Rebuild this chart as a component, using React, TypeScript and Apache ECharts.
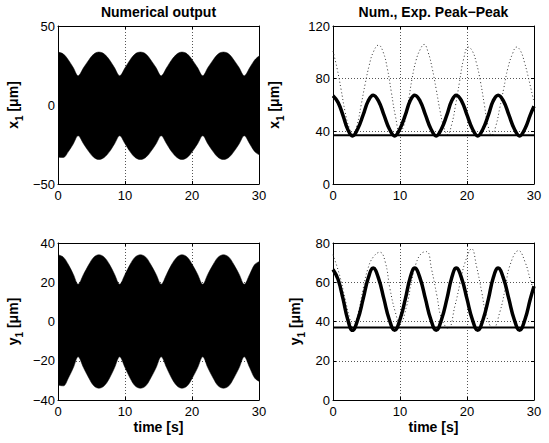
import React, { useEffect, useRef } from "react";
import * as echarts from "echarts";

// ---------- data ----------
const titles = ["Numerical output", "Num., Exp. Peak\u2212Peak"];
const timeRange = [0, 30];

// envelope sample times (left column)
const tEnv = [0, 0.8, 1.55, 2.3, 3.0, 3.8, 4.6, 5.35, 6.1, 6.9, 7.7, 8.45, 9.2, 10.0, 10.75, 11.5, 12.3, 13.1, 13.85, 14.65, 15.4, 16.2, 16.95, 17.75, 18.5, 19.3, 20.05, 20.85, 21.6, 22.35, 23.15, 23.9, 24.7, 25.5, 26.25, 27.05, 27.8, 28.6, 29.35, 30.0];
const x1Upper = [33.5, 32.3, 28.5, 23.5, 18.5, 23.5, 28.5, 32.3, 33.5, 32.3, 28.5, 23.5, 18.5, 23.5, 28.5, 32.3, 33.5, 32.3, 28.5, 23.5, 18.5, 23.5, 28.5, 32.3, 33.5, 32.3, 28.5, 23.5, 18.5, 23.5, 28.5, 32.3, 33.5, 32.3, 28.5, 23.5, 18.5, 23.5, 28.5, 31.0];
const x1Lower = [-33.0, -33.2, -29.5, -24.5, -19.5, -24.5, -29.5, -33.2, -34.5, -33.2, -29.5, -24.5, -19.5, -24.5, -29.5, -33.2, -34.5, -33.2, -29.5, -24.5, -19.5, -24.5, -29.5, -33.2, -34.5, -33.2, -29.5, -24.5, -19.5, -24.5, -29.5, -33.2, -34.5, -33.2, -29.5, -24.5, -19.5, -24.5, -29.5, -31.5];
const y1Upper = [34.0, 32.8, 29.0, 24.0, 19.0, 24.0, 29.0, 32.8, 34.0, 32.8, 29.0, 24.0, 19.0, 24.0, 29.0, 32.8, 34.0, 32.8, 29.0, 24.0, 19.0, 24.0, 29.0, 32.8, 34.0, 32.8, 29.0, 24.0, 19.0, 24.0, 29.0, 32.8, 34.0, 32.8, 29.0, 24.0, 19.0, 24.0, 29.0, 30.5];
const y1Lower = [-32.5, -32.8, -28.8, -23.5, -18.0, -23.5, -28.8, -32.8, -34.0, -32.8, -28.8, -23.5, -18.0, -23.5, -28.8, -32.8, -34.0, -32.8, -28.8, -23.5, -18.0, -23.5, -28.8, -32.8, -34.0, -32.8, -28.8, -23.5, -18.0, -23.5, -28.8, -32.8, -34.0, -32.8, -28.8, -23.5, -18.0, -23.5, -28.8, -30.5];

// numerical peak-peak (thick line, right column)
const tPP = [0, 0.75, 1.5, 2.2, 2.9, 3.7, 4.5, 5.25, 6.0, 6.8, 7.6, 8.4, 9.2, 10.0, 10.8, 11.5, 12.2, 13.0, 13.8, 14.6, 15.4, 16.2, 17.0, 17.7, 18.4, 19.2, 20.0, 20.8, 21.6, 22.4, 23.2, 23.9, 24.65, 25.45, 26.25, 27.05, 27.85, 28.65, 29.45, 30.0];
const x1PP = [67.0, 62.0, 52.0, 41.5, 36.5, 42.0, 52.5, 63.0, 67.5, 63.0, 52.5, 42.0, 36.5, 42.0, 52.5, 63.0, 67.5, 63.0, 52.5, 42.0, 36.5, 42.0, 52.5, 63.0, 67.5, 63.0, 52.5, 42.0, 36.5, 42.0, 52.5, 63.0, 67.5, 63.0, 52.5, 42.0, 36.5, 42.0, 52.5, 59.0];
const y1PP = [66.5, 61.5, 51.5, 41.0, 35.5, 41.0, 51.5, 62.0, 67.2, 62.0, 51.5, 41.0, 35.5, 41.0, 51.5, 62.0, 67.2, 62.0, 51.5, 41.0, 35.5, 41.0, 51.5, 62.0, 67.2, 62.0, 51.5, 41.0, 35.5, 41.0, 51.5, 62.0, 67.2, 62.0, 51.5, 41.0, 35.5, 41.0, 51.5, 58.0];

// experimental peak-peak (dotted line)
const tExpX = [0, 0.6, 1.2, 1.8, 2.4, 3.0, 3.6, 4.2, 4.8, 5.4, 6.0, 6.8, 7.5, 8.1, 8.7, 9.3, 10.0, 10.6, 11.2, 11.8, 12.4, 13.0, 13.6, 14.2, 14.8, 15.4, 16.0, 16.6, 17.1, 17.7, 18.3, 18.9, 19.5, 20.2, 20.8, 21.4, 22.0, 22.6, 23.1, 23.7, 24.3, 24.9, 25.5, 26.1, 26.8, 27.4, 28.0, 28.6, 29.2, 30.0];
const x1Exp = [101, 88, 72, 55, 43, 38, 45, 60, 76, 90, 100, 105.5, 100, 88, 70, 52, 39, 45, 61, 80, 94, 102, 106, 100, 88, 72, 55, 42, 37.5, 45, 60, 78, 95, 104, 101, 92, 78, 60, 45, 37, 44, 58, 73, 88, 99, 104, 101, 92, 80, 62];
const tExpY = [0, 1.0, 1.8, 2.5, 3.0, 3.8, 4.5, 5.2, 6.0, 7.0, 7.8, 8.5, 9.3, 10.0, 11.0, 11.7, 12.4, 13.2, 14.0, 14.7, 15.5, 16.2, 17.2, 18.2, 19.0, 19.7, 20.7, 21.4, 22.2, 22.9, 23.9, 24.9, 25.7, 26.4, 27.7, 28.7, 29.4, 30.0];
const y1Exp = [74, 63.4, 51.6, 41.5, 36.4, 44.8, 56.7, 66.8, 72.8, 75.3, 70.3, 56.7, 44.8, 39, 48, 60, 69.6, 74.7, 75.6, 66.8, 53.3, 41.5, 36.4, 48, 60, 70, 77, 68.5, 55, 43, 36.4, 44.8, 56.7, 68.5, 76.1, 70, 61.9, 55];

// horizontal reference levels
const x1Level = 37;
const y1Level = 37;

// y-axis ranges [min, max, interval]
const yRanges = [
  [-50, 50, 50],
  [0, 120, 40],
  [-40, 40, 20],
  [0, 80, 20],
];
const xInterval = 10;

// ---------- layout / style ----------
const FONT = '"Liberation Sans", Arial, Helvetica, sans-serif';
const grids = [
  { left: 58, top: 26, width: 201, height: 158 },
  { left: 333, top: 26, width: 201, height: 158 },
  { left: 58, top: 243, width: 201, height: 157 },
  { left: 333, top: 243, width: 201, height: 157 },
];
const yNames = ["x", "x", "y", "y"];
const yNameGaps = [34, 48, 34, 27];

const pairs = (t: number[], v: number[]) => t.map((x, i) => [x, v[i]]);
const minus = (v: number) => String(v).replace("-", "\u2212");

export default function App() {
  const ref = useRef<HTMLDivElement>(null);
  useEffect(() => {
    if (!ref.current) return;
    const chart = echarts.init(ref.current, undefined, { renderer: "svg" });

    const gridLine = { show: true, lineStyle: { color: "#555", width: 1, type: [1, 2] as any } };
    const axisLine = { show: true, onZero: false, lineStyle: { color: "#000", width: 1 } };
    const tick = { show: true, inside: true, length: 3, lineStyle: { color: "#000" } };

    const xAxis: any[] = [];
    const yAxis: any[] = [];
    grids.forEach((_, i) => {
      xAxis.push({
        type: "value", gridIndex: i, position: "bottom",
        min: timeRange[0], max: timeRange[1], interval: xInterval,
        axisLine, axisTick: tick, splitLine: gridLine,
        axisLabel: { color: "#000", fontSize: 13, fontFamily: FONT, margin: 5 },
        name: i >= 2 ? "time [s]" : "", nameLocation: "middle", nameGap: 20,
        nameTextStyle: { color: "#000", fontSize: 14, fontWeight: "bold", fontFamily: FONT },
      });
      xAxis.push({
        type: "value", gridIndex: i, position: "top",
        min: timeRange[0], max: timeRange[1], interval: xInterval,
        axisLine, axisTick: tick, splitLine: { show: false }, axisLabel: { show: false },
      });
      const [mn, mx, iv] = yRanges[i];
      yAxis.push({
        type: "value", gridIndex: i, position: "left",
        min: mn, max: mx, interval: iv,
        axisLine, axisTick: tick, splitLine: gridLine,
        axisLabel: { color: "#000", fontSize: 13, fontFamily: FONT, margin: 3, formatter: minus },
        name: `{b|${yNames[i]}}{s|1}{b| [\u03bcm]}`, nameLocation: "middle", nameGap: yNameGaps[i],
        nameTextStyle: {
          color: "#000", fontFamily: FONT,
          rich: {
            b: { fontSize: 14, fontWeight: "bold", fontFamily: FONT, color: "#000", lineHeight: 22, verticalAlign: "middle" },
            s: { fontSize: 10, fontWeight: "bold", fontFamily: FONT, color: "#000", lineHeight: 12, verticalAlign: "bottom" },
          },
        },
      });
      yAxis.push({
        type: "value", gridIndex: i, position: "right",
        min: mn, max: mx, interval: iv,
        axisLine, axisTick: tick, splitLine: { show: false }, axisLabel: { show: false },
      });
    });

    // filled band halves; each half overlaps the other a little past zero so no seam shows
    const band = (gi: number, t: number[], v: number[], origin: number) => ({
      type: "line", xAxisIndex: gi * 2, yAxisIndex: gi * 2, z: 2,
      data: pairs(t, v), showSymbol: false, symbol: "none", smooth: 0.35,
      lineStyle: { color: "#000", width: 0.5 },
      areaStyle: { color: "#000", opacity: 1, origin },
    });
    const thick = (gi: number, t: number[], v: number[]) => ({
      type: "line", xAxisIndex: gi * 2, yAxisIndex: gi * 2, z: 4,
      data: pairs(t, v), showSymbol: false, symbol: "none", smooth: 0.45,
      lineStyle: { color: "#000", width: 3.5 },
    });
    const dotted = (gi: number, t: number[], v: number[]) => ({
      type: "line", xAxisIndex: gi * 2, yAxisIndex: gi * 2, z: 2,
      data: pairs(t, v), showSymbol: false, symbol: "none", smooth: 0.45,
      lineStyle: { color: "#333", width: 1, type: [1, 2.5] },
    });
    const level = (gi: number, L: number) => ({
      type: "line", xAxisIndex: gi * 2, yAxisIndex: gi * 2, z: 3,
      data: [[timeRange[0], L], [timeRange[1], L]], showSymbol: false, symbol: "none",
      lineStyle: { color: "#000", width: 2 },
    });

    const series: any[] = [
      band(0, tEnv, x1Upper, -5), band(0, tEnv, x1Lower, 5),
      dotted(1, tExpX, x1Exp), level(1, x1Level), thick(1, tPP, x1PP),
      band(2, tEnv, y1Upper, -5), band(2, tEnv, y1Lower, 5),
      dotted(3, tExpY, y1Exp), level(3, y1Level), thick(3, tPP, y1PP),
    ];

    const titleText = (text: string, cx: number) => ({
      type: "text", x: cx, y: 12,
      style: {
        text, fill: "#000", fontSize: 14, fontWeight: "bold", fontFamily: FONT,
        align: "center", verticalAlign: "middle", textAlign: "center", textVerticalAlign: "middle",
      },
    });

    chart.setOption({
      animation: false,
      backgroundColor: "#fff",
      grid: grids.map((g) => ({ ...g, containLabel: false })),
      xAxis, yAxis, series,
      graphic: [
        titleText(titles[0], grids[0].left + grids[0].width / 2),
        titleText(titles[1], grids[1].left + grids[1].width / 2),
      ],
    });
    return () => chart.dispose();
  }, []);
  return (
    <div
      ref={ref}
      style={{ position: "fixed", left: 0, top: 0, width: 549, height: 443, background: "#fff" }}
    />
  );
}
